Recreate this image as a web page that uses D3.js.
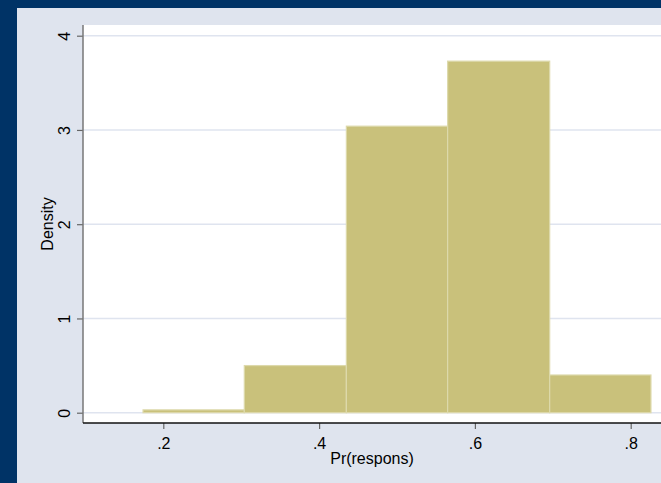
<!DOCTYPE html>
<html>
<head>
<meta charset="utf-8">
<script src="https://cdn.jsdelivr.net/npm/d3@7"></script>
<style>
  html, body { margin: 0; padding: 0; background: #003366; }
  svg { display: block; }
  text { font-family: "Liberation Sans", Arial, Helvetica, sans-serif; fill: #000; }
</style>
</head>
<body>
<svg id="chart" width="661" height="483"></svg>
<script>
// Histogram of predicted response probabilities
const binEdges = [0.174, 0.304, 0.435, 0.565, 0.696, 0.826];
const density = [0.03, 0.50, 3.04, 3.73, 0.40];
const xTicks = [0.2, 0.4, 0.6, 0.8];
const xTickLabels = [".2", ".4", ".6", ".8"];
const yTicks = [0, 1, 2, 3, 4];
const xTitle = "Pr(respons)";
const yTitle = "Density";

const bins = density.map((d, i) => ({ x0: binEdges[i], x1: binEdges[i + 1], v: d }));

const W = 661, H = 483;
const plot = { left: 83, top: 25, right: 661, bottom: 423 };

const svg = d3.select("#chart");

// outer frame + graph region
svg.append("rect").attr("width", W).attr("height", H).attr("fill", "#003366");
svg.append("rect").attr("x", 17).attr("y", 8).attr("width", W - 17).attr("height", H - 8)
  .attr("fill", "#dfe4ee");
// plot region
svg.append("rect").attr("x", plot.left).attr("y", plot.top)
  .attr("width", plot.right - plot.left).attr("height", plot.bottom - plot.top)
  .attr("fill", "#ffffff");

const x = d3.scaleLinear().domain([0.2, 0.8]).range([163.3, 630.7]);
const y = d3.scaleLinear().domain([0, 4]).range([412.7, 35.7]);

// horizontal grid lines
svg.append("g").selectAll("line").data(yTicks).join("line")
  .attr("x1", plot.left).attr("x2", plot.right)
  .attr("y1", d => y(d)).attr("y2", d => y(d))
  .attr("stroke", "#dfe4ef").attr("stroke-width", 1.5);

// bars
svg.append("g").selectAll("rect").data(bins).join("rect")
  .attr("x", d => x(d.x0)).attr("width", d => x(d.x1) - x(d.x0))
  .attr("y", d => y(d.v)).attr("height", d => y(0) - y(d.v))
  .attr("fill", "#c9c17b").attr("stroke", "#ddd9ab").attr("stroke-width", 1.2);

// y axis
const yAxis = d3.axisLeft(y).tickValues(yTicks).tickFormat(d3.format("d"))
  .tickSize(6).tickPadding(0);
const gy = svg.append("g").attr("transform", `translate(${plot.left},0)`).call(yAxis);
gy.select(".domain").remove();
gy.selectAll(".tick line").attr("stroke", "#666").attr("stroke-width", 1.2);
gy.selectAll(".tick text")
  .attr("transform", "rotate(-90)")
  .attr("x", 0).attr("y", -13.5)
  .attr("dy", 0)
  .attr("text-anchor", "middle")
  .style("font-size", "16px");
svg.append("line").attr("x1", plot.left).attr("x2", plot.left)
  .attr("y1", plot.top).attr("y2", plot.bottom)
  .attr("stroke", "#777").attr("stroke-width", 1.5);

// x axis
const xAxis = d3.axisBottom(x).tickValues(xTicks)
  .tickFormat((d, i) => xTickLabels[i]).tickSize(6).tickPadding(0);
const gx = svg.append("g").attr("transform", `translate(0,${plot.bottom})`).call(xAxis);
gx.select(".domain").remove();
gx.selectAll(".tick line").attr("stroke", "#666").attr("stroke-width", 1.2);
gx.selectAll(".tick text").attr("y", 26).attr("dy", 0).style("font-size", "16px");
svg.append("line").attr("x1", plot.left).attr("x2", plot.right)
  .attr("y1", plot.bottom).attr("y2", plot.bottom)
  .attr("stroke", "#111").attr("stroke-width", 1.3);

// axis titles
svg.append("text").attr("x", (plot.left + plot.right) / 2).attr("y", 464)
  .attr("text-anchor", "middle").style("font-size", "16px").text(xTitle);
svg.append("text").attr("transform", "translate(53,224) rotate(-90)")
  .attr("text-anchor", "middle").style("font-size", "16px").text(yTitle);
</script>
</body>
</html>
